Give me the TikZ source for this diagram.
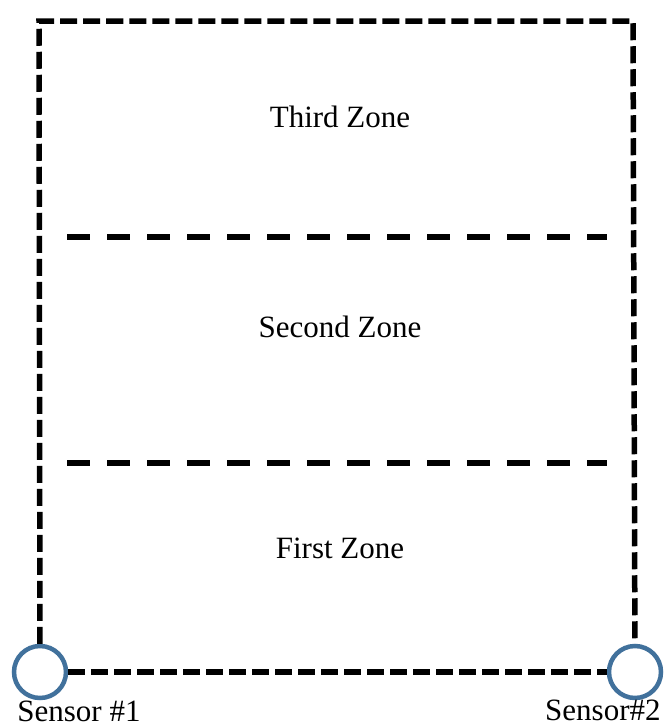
\documentclass[tikz,border=0pt]{standalone}
\usepackage{fontspec}
\setmainfont{Liberation Serif}
\definecolor{sensorblue}{HTML}{41719C}
\tikzset{
  outerline/.style={line width=2.75pt, dash pattern=on 8.5pt off 3pt},
  zoneline/.style={line width=2.75pt, dash pattern=on 11.5pt off 8.5pt},
  sensor/.style={circle, draw=sensorblue, line width=2.25pt, fill=white, minimum size=26pt, inner sep=0pt},
  zonetext/.style={anchor=base, font=\fontsize{15.5}{18}\selectfont}
}
\begin{document}
\begin{tikzpicture}[x=0.5pt, y=-0.5pt]
            \useasboundingbox (0,0) rectangle (666,728);

            % Corners and Sensors
            \coordinate (tl) at (39,21);
            \coordinate (tr) at (633,21);
            \node[sensor] (s1) at (40,672) {};
            \node[sensor] (s2) at (635,672) {};

            % Outer Boundary
            \draw[outerline] (s1) -- (tl) -- (tr) -- (s2);
            \draw[outerline] (s1) -- (s2);

            % Zone Borders
            \coordinate (b1l) at (67,237);
            \coordinate (b1r) at (607,237);
            \coordinate (b2l) at (67,463);
            \coordinate (b2r) at (607,463);
            \draw[zoneline] (b1l) -- (b1r);
            \draw[zoneline] (b2l) -- (b2r);

            % Zone Labels
            \node[zonetext] (third) at (340,127) {Third Zone};
            \node[zonetext] (second) at (340,337) {Second Zone};
            \node[zonetext] (first) at (340,558) {First Zone};

            % Sensor Labels
            \node[zonetext, anchor=base west, inner sep=0pt] (l1) at (17,721) {Sensor \#1};
            \node[zonetext, anchor=base east, inner sep=0pt] (l2) at (661,720) {Sensor\#2};
        \end{tikzpicture}
\end{document}
